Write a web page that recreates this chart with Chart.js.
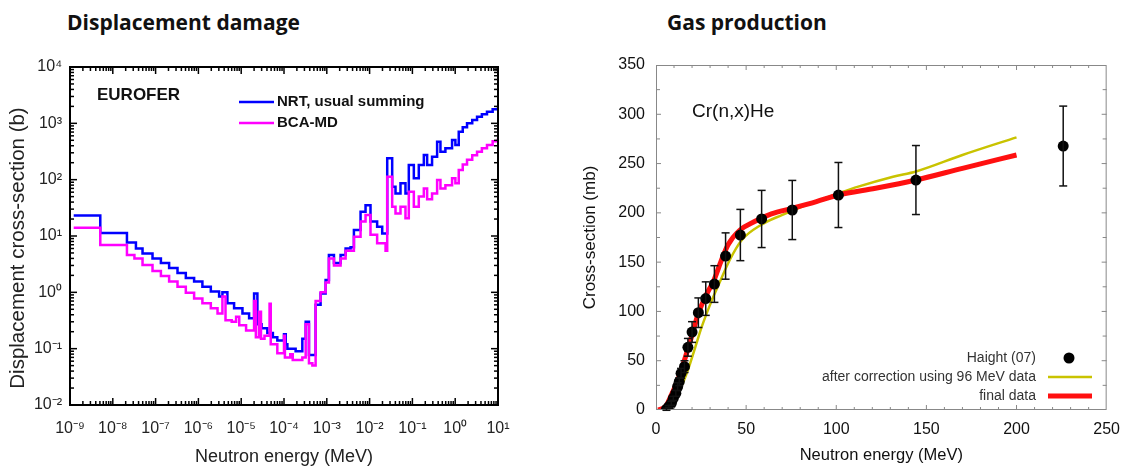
<!DOCTYPE html>
<html>
<head>
<meta charset="utf-8">
<script src="https://cdn.jsdelivr.net/npm/chart.js@4.4.1/dist/chart.umd.min.js"></script>
<style>
body { margin: 0; background: #fff; width: 1130px; height: 470px; overflow: hidden; position: relative; font-family: "Liberation Sans", Arial, sans-serif; }
.title { position: absolute; top: 8px; font-family: "Open Sans", "Liberation Sans", sans-serif; font-weight: bold; font-size: 21px; color: #111; }
#wrap1 { position: absolute; left: 0; top: 0; }
#wrap2 { position: absolute; left: 560px; top: 0; }
</style>
</head>
<body>
<div class="title" style="left:67px">Displacement damage</div>
<div class="title" style="left:667px">Gas production</div>
<div id="wrap1"><canvas id="dpa" width="560" height="470"></canvas></div>
<div id="wrap2"><canvas id="gas" width="570" height="470"></canvas></div>
<script>
// ---------------- displacement damage (EUROFER) ----------------
// step start energies (MeV) and the value held until the next step
const nrtEnergy = [1.22e-9, 5.1e-9, 2.14e-8, 3.47e-8, 4.95e-8, 8.47e-8, 1.33e-7, 2.07e-7, 3.25e-7, 5.08e-7,
    7.94e-7, 1.24e-6, 1.95e-6, 3.05e-6, 3.64e-6, 4.76e-6, 6.82e-6, 1.07e-5, 1.53e-5, 2.0e-5,
    2.39e-5, 3.0e-5, 4.08e-5, 5.5e-5, 6.98e-5, 1.0e-4, 1.1e-4, 1.2e-4, 1.87e-4, 2.68e-4,
    3.21e-4, 3.83e-4, 5.48e-4, 7.16e-4, 9.38e-4, 1.12e-3, 1.47e-3, 2.1e-3, 2.75e-3, 3.59e-3,
    4.3e-3, 6.15e-3, 8.04e-3, 1.05e-2, 1.5e-2, 1.97e-2, 2.58e-2, 3.37e-2, 4.03e-2, 5.27e-2,
    6.89e-2, 8.24e-2, 0.108, 0.141, 0.185, 0.221, 0.288, 0.378, 0.452, 0.59,
    0.845, 1.01, 1.21, 1.5, 1.89, 2.5, 3.24, 4.2, 5.53, 7.5, 10];
const nrtXS = [23, 11.3, 7.7, 6.0, 4.9, 4.0, 3.3, 2.7, 2.2, 1.8,
    1.55, 1.26, 1.03, 0.84, 1.0, 0.64, 0.52, 0.42, 0.345, 0.95,
    0.27, 0.23, 0.19, 0.16, 0.14, 0.18, 0.12, 0.1, 0.09, 0.15,
    0.3, 0.077, 0.6, 0.95, 1.66, 4.6, 3.3, 4.6, 6.0, 6.3,
    12.8, 27, 35, 18, 14.6, 11.1, 240, 75, 57, 86,
    57, 182, 106, 182, 274, 182, 256, 472, 314, 360,
    506, 412, 708, 850, 1000, 1150, 1312, 1450, 1610, 1780, 1920];

const bcaEnergy = [1.22e-9, 5.1e-9, 2.14e-8, 3.2e-8, 4.95e-8, 8.47e-8, 1.33e-7, 2.07e-7, 3.25e-7, 5.08e-7,
    7.94e-7, 1.24e-6, 1.95e-6, 2.8e-6, 3.64e-6, 4.3e-6, 6.0e-6, 7.6e-6, 9.0e-6, 1.3e-5,
    2.0e-5, 2.2e-5, 2.6e-5, 2.9e-5, 3.5e-5, 4.6e-5, 4.9e-5, 6.98e-5, 1.0e-4, 1.05e-4,
    1.4e-4, 1.6e-4, 2.68e-4, 3.21e-4, 3.83e-4, 4.6e-4, 5.48e-4, 7.16e-4, 9.38e-4, 1.12e-3,
    1.47e-3, 2.1e-3, 2.75e-3, 4.3e-3, 6.15e-3, 8.04e-3, 1.05e-2, 1.5e-2, 2.36e-2, 2.58e-2,
    3.37e-2, 4.03e-2, 5.27e-2, 6.89e-2, 8.24e-2, 0.108, 0.141, 0.185, 0.221, 0.288,
    0.378, 0.452, 0.59, 0.845, 1.01, 1.21, 1.5, 1.89, 2.5, 3.24, 4.2, 5.53, 7.5, 10];
const bcaXS = [14, 6.9, 4.6, 4.0, 3.05, 2.4, 1.95, 1.55, 1.26, 0.98,
    0.78, 0.64, 0.52, 0.42, 0.84, 0.32, 0.3, 0.37, 0.26, 0.21,
    0.7, 0.16, 0.45, 0.15, 0.17, 0.63, 0.12, 0.083, 0.17, 0.07,
    0.08, 0.063, 0.07, 0.27, 0.055, 0.05, 0.7, 1.0, 1.5, 4.0,
    3.0, 4.0, 5.5, 9.7, 18, 23.6, 10.5, 7.4, 5.5, 113,
    33, 25, 33, 20.6, 61, 33, 50, 70, 45, 57,
    99, 70, 80, 106, 86, 148, 185, 225, 270, 314, 360, 412, 480, 542];

const dpaXTicks = [1e-9, 1e-8, 1e-7, 1e-6, 1e-5, 1e-4, 1e-3, 1e-2, 1e-1, 1, 10];
const dpaYTicks = [1e-2, 1e-1, 1, 10, 100, 1000, 10000];

// ---------------- gas production Cr(n,x)He ----------------
const haightE = [5.8, 7.1, 8.5, 9.6, 11.0, 12.0, 12.9, 13.9, 15.8, 17.7, 20.0, 23.5, 27.6, 32.4, 38.6, 46.8, 58.6, 75.6, 101.2, 144.2, 225.9];
const haightXS = [0.7, 3.4, 6.8, 11.8, 16.9, 23.7, 28.7, 37.2, 44, 63.6, 79.1, 98.7, 113, 127.8, 156.2, 177.5, 193.8, 202.9, 218.1, 233.3, 267.8];
const haightErr = [1, 1, 2, 2, 3, 4, 4, 5, 6, 9, 10.5, 15, 17, 18.6, 23.5, 26, 29, 30, 33, 35, 40.5];

const corrE = [2.3, 8.1, 13.9, 17.7, 21.6, 25.4, 30.3, 35.1, 40.9, 47.6, 58.2, 69.8, 83.3, 101.2, 112.2, 131.5, 144.2, 170, 200];
const corrXS = [0, 8.5, 23.7, 40.6, 62.6, 84.5, 108.2, 128.5, 152.2, 172.5, 187.7, 197.8, 208, 219.8, 226.6, 236.7, 242, 258.7, 276.6];

const finalE = [1.3, 5.2, 8.1, 12, 15.8, 19.7, 23.5, 27.4, 32.2, 36, 39.9, 46.6, 54.4, 64, 75.6, 89, 101.2, 121.8, 144.2, 170, 200];
const finalXS = [0, 3.4, 13.5, 30, 50.7, 74.4, 98, 115, 132, 150.5, 167.4, 182.6, 191, 198.9, 204.6, 211.4, 218.1, 224.9, 233.3, 245.2, 258.7];

const pairs = (xs, ys) => xs.map((x, i) => ({ x: x, y: ys[i] }));

const SUP = { '-': '⁻', '0': '⁰', '1': '¹', '2': '²', '3': '³', '4': '⁴', '5': '⁵', '6': '⁶', '7': '⁷', '8': '⁸', '9': '⁹' };
function powLabel(v) {
    const e = String(Math.round(Math.log10(v)));
    return '10' + e.split('').map(c => SUP[c]).join('');
}

function seg(ctx, x1, y1, x2, y2) {
    ctx.beginPath(); ctx.moveTo(x1, y1); ctx.lineTo(x2, y2); ctx.stroke();
}

const FONT = '"Liberation Sans", Arial, sans-serif';

// frame with inward major/minor ticks on the four sides (log axes)
const logFrame = {
    id: 'logFrame',
    afterDatasetsDraw(chart) {
        const { ctx, chartArea: a, scales: { x, y } } = chart;
        ctx.save();
        ctx.strokeStyle = '#000';
        ctx.lineWidth = 1.5;
        for (let e = -9; e < 1; e++) {
            for (let k = 1; k < 10; k++) {
                const px = x.getPixelForValue(k * Math.pow(10, e));
                const len = k === 1 ? 7 : 4;
                seg(ctx, px, a.bottom, px, a.bottom - len);
                seg(ctx, px, a.top, px, a.top + len);
            }
        }
        for (let e = -2; e < 4; e++) {
            for (let k = 1; k < 10; k++) {
                const py = y.getPixelForValue(k * Math.pow(10, e));
                const len = k === 1 ? 7 : 4;
                seg(ctx, a.left, py, a.left + len, py);
                seg(ctx, a.right, py, a.right - len, py);
            }
        }
        ctx.lineWidth = 2;
        ctx.strokeRect(a.left, a.top, a.width, a.height);

        // y axis title, centred a little below the middle as in the original
        ctx.fillStyle = '#222';
        ctx.textAlign = 'center';
        ctx.textBaseline = 'middle';
        ctx.font = '20.5px ' + FONT;
        ctx.translate(18, 248);
        ctx.rotate(-Math.PI / 2);
        ctx.fillText('Displacement cross-section (b)', 0, 0);
        ctx.setTransform(1, 0, 0, 1, 0, 0);
        ctx.restore();

        // labels inside the plot
        ctx.save();
        ctx.fillStyle = '#111';
        ctx.textBaseline = 'middle';
        ctx.font = 'bold 17px ' + FONT;
        ctx.fillText('EUROFER', a.left + 27, a.top + 28);
        ctx.font = 'bold 15px ' + FONT;
        ctx.lineWidth = 2.5;
        ctx.strokeStyle = '#0000ff';
        seg(ctx, a.left + 169, a.top + 35, a.left + 204, a.top + 35);
        ctx.fillText('NRT, usual summing', a.left + 207, a.top + 35);
        ctx.strokeStyle = '#ff00ff';
        seg(ctx, a.left + 169, a.top + 56, a.left + 204, a.top + 56);
        ctx.fillText('BCA-MD', a.left + 207, a.top + 56);
        ctx.restore();
    }
};

new Chart(document.getElementById('dpa'), {
    type: 'line',
    data: {
        datasets: [
            { label: 'BCA-MD', data: pairs(bcaEnergy, bcaXS), borderColor: '#ff00ff', borderWidth: 2.5, stepped: true, pointRadius: 0, order: 0 },
            { label: 'NRT, usual summing', data: pairs(nrtEnergy, nrtXS), borderColor: '#0000ff', borderWidth: 2.5, stepped: true, pointRadius: 0, order: 1 }
        ]
    },
    options: {
        responsive: false,
        animation: false,
        layout: { padding: { top: 67, right: 62, left: 0, bottom: 0 } },
        plugins: { legend: { display: false }, tooltip: { enabled: false } },
        scales: {
            x: {
                type: 'logarithmic', min: 1e-9, max: 10,
                afterBuildTicks: s => { s.ticks = dpaXTicks.map(v => ({ value: v })); },
                afterFit: s => { s.height = 65; },
                grid: { display: false, drawTicks: false },
                border: { display: false },
                ticks: { callback: v => powLabel(v), autoSkip: false, maxRotation: 0, padding: 14, color: '#222', font: { size: 16, family: FONT } },
                title: { display: true, text: 'Neutron energy (MeV)', color: '#222', padding: { bottom: 2 }, font: { size: 18, family: FONT } }
            },
            y: {
                type: 'logarithmic', min: 1e-2, max: 1e4,
                afterBuildTicks: s => { s.ticks = dpaYTicks.map(v => ({ value: v })); },
                afterFit: s => { s.width = 70; },
                grid: { display: false, drawTicks: false },
                border: { display: false },
                ticks: { callback: v => powLabel(v), autoSkip: false, padding: 8, color: '#222', font: { size: 16, family: FONT } }
            }
        }
    },
    plugins: [logFrame]
});

// frame, inward ticks, error bars and key for the gas production plot
const gasExtras = {
    id: 'gasExtras',
    afterDatasetsDraw(chart) {
        const { ctx, chartArea: a, scales: { x, y } } = chart;
        ctx.save();
        ctx.strokeStyle = '#888';
        ctx.lineWidth = 1;
        for (let v = 10; v < 250; v += 10) {
            const px = x.getPixelForValue(v);
            const len = v % 50 === 0 ? 5 : 3;
            seg(ctx, px, a.bottom, px, a.bottom - len);
            seg(ctx, px, a.top, px, a.top + len);
        }
        for (let v = 25; v < 350; v += 25) {
            const py = y.getPixelForValue(v);
            const len = v % 50 === 0 ? 5 : 4;
            seg(ctx, a.left, py, a.left + len, py);
            seg(ctx, a.right, py, a.right - len, py);
        }
        ctx.strokeRect(a.left + 0.5, a.top + 0.5, a.width - 1, a.height - 1);

        // error bars
        ctx.strokeStyle = '#111';
        ctx.lineWidth = 1.5;
        haightE.forEach((e, i) => {
            const px = x.getPixelForValue(e);
            const top = y.getPixelForValue(haightXS[i] + haightErr[i]);
            const bot = y.getPixelForValue(haightXS[i] - haightErr[i]);
            seg(ctx, px, top, px, bot);
            seg(ctx, px - 4, top, px + 4, top);
            seg(ctx, px - 4, bot, px + 4, bot);
        });

        ctx.fillStyle = '#111';
        ctx.textBaseline = 'middle';
        ctx.font = '19px ' + FONT;
        ctx.fillText('Cr(n,x)He', a.left + 36, a.top + 47);

        ctx.fillStyle = '#333';
        ctx.font = '14px ' + FONT;
        ctx.textAlign = 'right';
        ctx.fillText('Haight (07)', a.left + 380, a.top + 293);
        ctx.fillText('after correction using 96 MeV data', a.left + 380, a.top + 312);
        ctx.fillText('final data', a.left + 380, a.top + 331);
        ctx.fillStyle = '#000';
        ctx.beginPath(); ctx.arc(a.left + 413, a.top + 293, 5.5, 0, Math.PI * 2); ctx.fill();
        ctx.strokeStyle = '#c9c300'; ctx.lineWidth = 2.5;
        seg(ctx, a.left + 392, a.top + 312, a.left + 436, a.top + 312);
        ctx.strokeStyle = '#ff1010'; ctx.lineWidth = 5;
        seg(ctx, a.left + 392, a.top + 331, a.left + 436, a.top + 331);
        ctx.restore();
    }
};

new Chart(document.getElementById('gas'), {
    type: 'line',
    data: {
        datasets: [
            { label: 'Haight (07)', data: pairs(haightE, haightXS), showLine: false, pointRadius: 5.5, pointBackgroundColor: '#000', pointBorderWidth: 0, order: 0 },
            { label: 'final data', data: pairs(finalE, finalXS), borderColor: '#ff1010', borderWidth: 5, pointRadius: 0, cubicInterpolationMode: 'monotone', order: 1 },
            { label: 'after correction using 96 MeV data', data: pairs(corrE, corrXS), borderColor: '#c9c300', borderWidth: 2.5, pointRadius: 0, cubicInterpolationMode: 'monotone', order: 2 }
        ]
    },
    options: {
        responsive: false,
        animation: false,
        layout: { padding: { top: 65, right: 19, left: 0, bottom: 0 } },
        plugins: { legend: { display: false }, tooltip: { enabled: false } },
        scales: {
            x: {
                type: 'linear', min: 0, max: 250,
                afterFit: s => { s.height = 60; },
                grid: { display: false, drawTicks: false },
                border: { display: false },
                ticks: { stepSize: 50, padding: 10, color: '#111', font: { size: 16, family: FONT } },
                title: { display: true, text: 'Neutron energy (MeV)', color: '#111', padding: { bottom: 5 }, font: { size: 16.5, family: FONT } }
            },
            y: {
                type: 'linear', min: 0, max: 350,
                afterFit: s => { s.width = 96; },
                grid: { display: false, drawTicks: false },
                border: { display: false },
                ticks: { stepSize: 50, padding: 11, color: '#111', font: { size: 16, family: FONT } },
                title: { display: true, text: 'Cross-section (mb)', color: '#111', padding: { top: 20 }, font: { size: 17, family: FONT } }
            }
        }
    },
    plugins: [gasExtras]
});
</script>
</body>
</html>
